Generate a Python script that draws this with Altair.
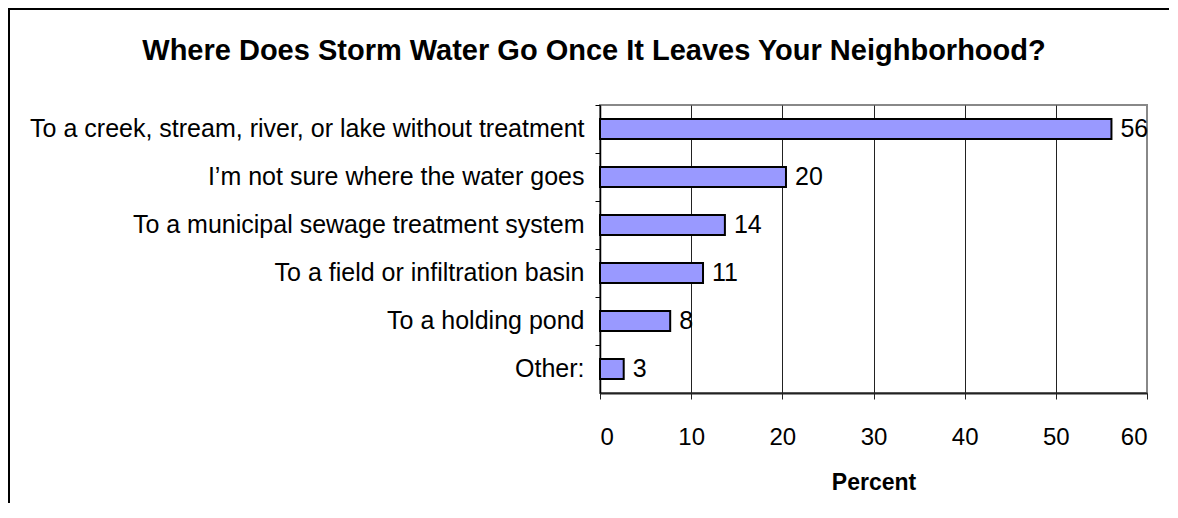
import altair as alt
import pandas as pd

categories = [
    "To a creek, stream, river, or lake without treatment",
    "I\u2019m not sure where the water goes",
    "To a municipal sewage treatment system",
    "To a field or infiltration basin",
    "To a holding pond",
    "Other:",
]
values = [56.1, 20.4, 13.7, 11.3, 7.7, 2.6]
x_ticks = [0, 10, 20, 30, 40, 50, 60]
title_text = ["Where Does Storm Water Go Once It Leaves Your Neighborhood?"]

df = pd.DataFrame({"category": categories, "value": values})

FONT = "Liberation Sans"
W, H = 547, 288
PL, PT, PR, PB = 592, 97, 22, 110

y_enc = alt.Y(
    "category:N",
    sort=categories,
    scale=alt.Scale(paddingInner=0, paddingOuter=0),
    axis=alt.Axis(
        title=None,
        bandPosition=0,
        labelPadding=11,
        tickSize=5,
        tickColor="black",
        domainColor="black",
        domainWidth=1.5,
        labelFontSize=25,
        labelFont=FONT,
        labelColor="black",
        labelLimit=700,
        grid=False,
    ),
)

x_enc = alt.X(
    "value:Q",
    scale=alt.Scale(domain=[0, 60], nice=False),
    axis=alt.Axis(
        title="Percent",
        values=x_ticks,
        format="d",
        tickSize=6,
        tickColor="#222",
        domainColor="#222",
        domainWidth=2,
        labelFontSize=24,
        labelFont=FONT,
        labelColor="black",
        labelPadding=26,
        titleFont=FONT,
        titleFontSize=23,
        titleFontWeight="bold",
        titleColor="black",
        titlePadding=22,
        grid=True,
        gridColor=alt.condition(
            "datum.value > 0 && datum.value < 60", alt.value("#222"), alt.value("transparent")
        ),
        gridWidth=1,
    ),
)

bars = alt.Chart(df).mark_bar(
    color="#9999FF", stroke="black", strokeWidth=2, height=alt.RelativeBandSize(0.42)
).encode(x=x_enc, y=y_enc)

labels = alt.Chart(df).mark_text(
    align="left", baseline="middle", dx=9, fontSize=25, font=FONT, color="black"
).encode(
    x="value:Q",
    y=alt.Y("category:N", sort=categories, bandPosition=0.5),
    text=alt.Text("value:Q", format=".0f"),
)

border = alt.Chart(df).mark_rect(
    fill="transparent", stroke="black", strokeWidth=2, clip=False
).encode(
    x=alt.value(-PL + 1),
    x2=alt.value(W + PR + 50),
    y=alt.value(-PT + 1),
    y2=alt.value(H + PB + 50),
)

title = alt.Chart(pd.DataFrame({"t": title_text})).mark_text(
    align="center", baseline="middle", fontSize=29, fontWeight="bold", font=FONT, color="black"
).encode(
    x=alt.value(-6),
    y=alt.value(-54),
    text="t:N",
)

chart = (
    alt.layer(border, bars, labels, title)
    .properties(
        width=W,
        height=H,
        autosize=alt.AutoSizeParams(type="none"),
        padding={"left": PL, "top": PT, "right": PR, "bottom": PB},
    )
    .configure_view(stroke="#888", strokeWidth=2)
)

chart.save("out.html", embed_options={"renderer": "svg", "actions": False})
